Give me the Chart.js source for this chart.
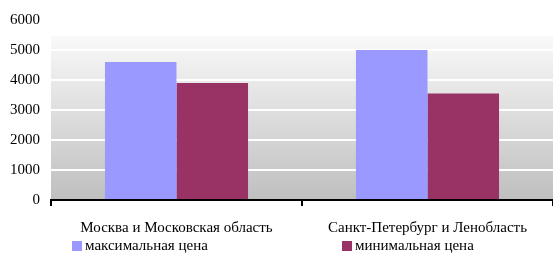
<!DOCTYPE html>
<html>
<head>
<meta charset="utf-8">
<script src="https://cdn.jsdelivr.net/npm/chart.js@4/dist/chart.umd.min.js"></script>
<style>
  html, body { margin: 0; padding: 0; background: #fff; }
  #wrap { width: 553px; height: 253px; }
</style>
</head>
<body>
<div id="wrap"><canvas id="priceChart"></canvas></div>
<script>
const regions = ['Москва и Московская область', 'Санкт-Петербург и Ленобласть'];
const maxPrice = [4600, 5000];
const minPrice = [3900, 3550];
const yTicks = [0, 1000, 2000, 3000, 4000, 5000, 6000];

const serif = { family: '"Liberation Serif", "Times New Roman", serif', size: 15 };

// gradient fill behind the plot area
const plotBackground = {
    id: 'plotBackground',
    beforeDraw(chart) {
        const { ctx, chartArea } = chart;
        const g = ctx.createLinearGradient(0, chartArea.top, 0, chartArea.bottom);
        g.addColorStop(0, '#ffffff');
        g.addColorStop(0.085, '#ffffff');
        g.addColorStop(0.09, '#f9f9f9');
        g.addColorStop(1, '#bfbfbf');
        ctx.save();
        ctx.fillStyle = g;
        ctx.fillRect(chartArea.left, chartArea.top, chartArea.right - chartArea.left, chartArea.bottom - chartArea.top);
        ctx.restore();
    }
};

// legend spread across one row, like the spreadsheet original
const wideLegend = {
    id: 'wideLegend',
    afterDraw(chart) {
        const ctx = chart.ctx;
        const gap = 270;
        const startX = 72;
        const y = 246;
        ctx.save();
        ctx.font = Chart.helpers.toFont(serif).string;
        ctx.textBaseline = 'middle';
        chart.data.datasets.forEach((ds, i) => {
            const x = startX + i * gap;
            ctx.fillStyle = ds.backgroundColor;
            ctx.fillRect(x, y - 5, 10, 10);
            ctx.fillStyle = '#000';
            ctx.fillText(ds.label, x + 13, y);
        });
        ctx.restore();
    }
};

new Chart(document.getElementById('priceChart'), {
    type: 'bar',
    data: {
        labels: regions,
        datasets: [{
            label: 'максимальная цена',
            data: maxPrice,
            backgroundColor: '#9999ff'
        }, {
            label: 'минимальная цена',
            data: minPrice,
            backgroundColor: '#993366'
        }]
    },
    options: {
        responsive: true,
        maintainAspectRatio: false,
        animation: false,
        layout: { padding: { top: 9, right: 0, left: 0, bottom: 0 } },
        datasets: {
            bar: { categoryPercentage: 0.57, barPercentage: 1 }
        },
        scales: {
            y: {
                min: yTicks[0],
                max: yTicks[yTicks.length - 1],
                ticks: {
                    stepSize: 1000,
                    color: '#000',
                    font: serif,
                    padding: 11,
                    callback: v => String(v)
                },
                afterFit(scale) { scale.width = 51; },
                grid: { color: '#ffffff', lineWidth: 2, drawTicks: false },
                border: { display: false }
            },
            x: {
                ticks: { color: '#000', font: serif, padding: 13 },
                afterFit(scale) { scale.height = 53; },
                grid: { drawOnChartArea: false, drawTicks: true, tickLength: 6, color: '#000', lineWidth: 2 },
                border: { display: true, color: '#000', width: 2 }
            }
        },
        plugins: {
            legend: { display: false },
            tooltip: { enabled: false }
        }
    },
    plugins: [plotBackground, wideLegend]
});
</script>
</body>
</html>
